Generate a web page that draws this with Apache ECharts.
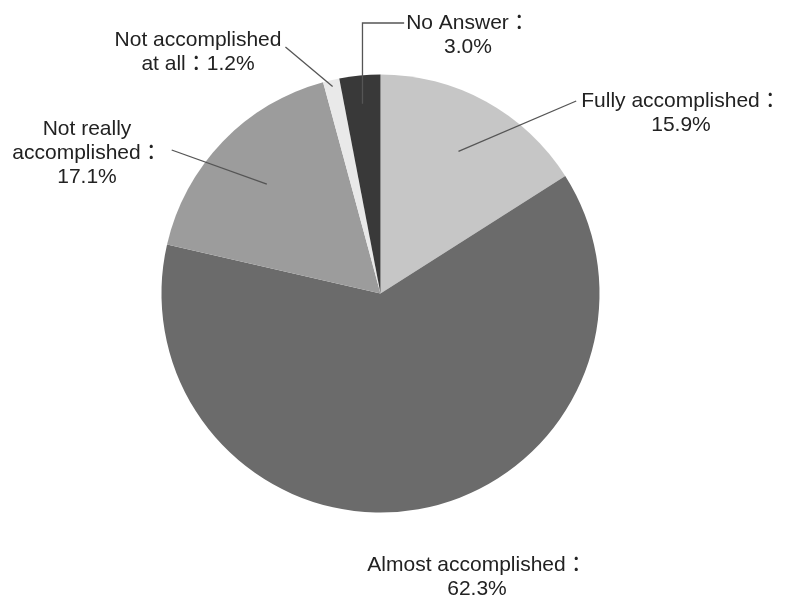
<!DOCTYPE html>
<html><head><meta charset="utf-8">
<script src="https://cdn.jsdelivr.net/npm/echarts@6/dist/echarts.min.js"></script>
<style>html,body{margin:0;padding:0;background:#fff}#c{width:788px;height:602px}</style>
</head><body><div id="c"></div>
<script>
// ---- data ----
const categories = ['Fully accomplished', 'Almost accomplished', 'Not really accomplished', 'Not accomplished at all', 'No Answer'];
const labelNames = ['Fully accomplished：\n', 'Almost accomplished：\n', 'Not really\naccomplished：\n', 'Not accomplished\nat all：', 'No Answer：\n'];
const values = [15.9, 62.3, 17.1, 1.2, 3.0];

// ---- style / layout ----
const colors = ['#c6c6c6', '#6b6b6b', '#9c9c9c', '#e9e9e9', '#393939'];
const pieCenter = [380.5, 293.5];
const pieRadius = 219;
const labelCenters = [[681, 113], [477, 577], [87, 153], [198, 52], [468, 35]];
// leader: start radius fraction, end style
const leaders = [
  { r: 0.74, type: 'left' },
  null,
  { r: 0.72, type: 'right' },
  { r: 0.97, type: 'rightTop' },
  { r: 0.87, type: 'elbow' }
];
const LH = 24;

const total = values.reduce((a, b) => a + b, 0);
const midAngles = [];
let acc = 0;
values.forEach(v => { midAngles.push((acc + v / 2) / total * 360); acc += v; });

const chart = echarts.init(document.getElementById('c'), null, { renderer: 'canvas' });
const option = {
  backgroundColor: '#ffffff',
  animation: false,
  series: [{
    type: 'pie',
    z: 2,
    center: pieCenter,
    radius: pieRadius,
    startAngle: 90,
    clockwise: true,
    silent: true,
    data: categories.map((c, i) => ({ name: c, value: values[i], itemStyle: { color: colors[i] } })),
    itemStyle: { borderWidth: 0 },
    label: { show: false },
    labelLine: { show: false }
  }, {
    type: 'pie',
    z: 5,
    center: pieCenter,
    radius: pieRadius,
    startAngle: 90,
    clockwise: true,
    silent: true,
    avoidLabelOverlap: false,
    data: categories.map((c, i) => ({
      name: c,
      value: values[i],
      labelLine: { show: leaders[i] !== null }
    })),
    itemStyle: { color: 'rgba(0,0,0,0)', borderWidth: 0 },
    label: {
      show: true,
      position: 'outside',
      formatter: p => labelNames[p.dataIndex] + values[p.dataIndex].toFixed(1) + '%',
      fontSize: 21,
      lineHeight: LH,
      color: '#222222',
      fontFamily: "'Liberation Sans', 'Noto Sans CJK JP', sans-serif",
      align: 'center'
    },
    labelLine: {
      show: true,
      length: 10,
      length2: 10,
      lineStyle: { color: '#555555', width: 1.3 }
    },
    labelLayout: function (params) {
      const i = params.dataIndex;
      const c = labelCenters[i];
      const w = params.labelRect.width, h = params.labelRect.height;
      const left = c[0] - w / 2, top = c[1] - h / 2, right = c[0] + w / 2;
      const res = { x: c[0], y: c[1], align: 'center', verticalAlign: 'middle' };
      const ld = leaders[i];
      if (ld) {
        const a = midAngles[i] * Math.PI / 180;
        const s = [pieCenter[0] + pieRadius * ld.r * Math.sin(a), pieCenter[1] - pieRadius * ld.r * Math.cos(a)];
        let e, m;
        if (ld.type === 'left') { e = [left - 5, top + LH / 2]; m = e; }
        else if (ld.type === 'right') { e = [right + 10, c[1] - 3]; m = e; }
        else if (ld.type === 'rightTop') { e = [right + 4, top + 19]; m = e; }
        else { e = [left - 2, top + LH / 2]; m = [s[0], top + LH / 2]; }
        res.labelLinePoints = [s, m, e];
      }
      return res;
    }
  }]
};
chart.setOption(option);
</script>
</body></html>
